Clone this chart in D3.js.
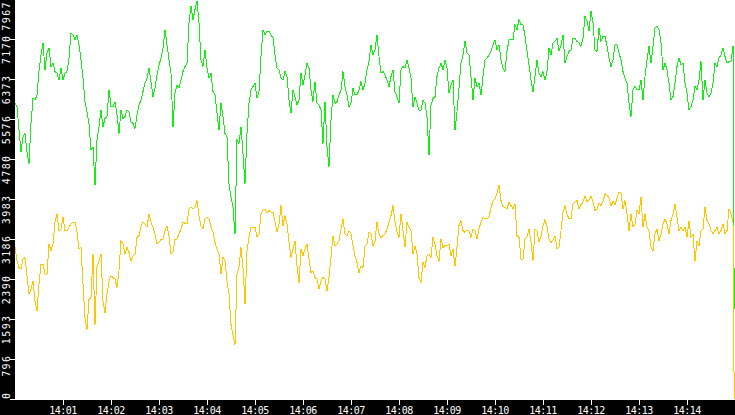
<!DOCTYPE html>
<html>
<head>
<meta charset="utf-8">
<script src="https://cdn.jsdelivr.net/npm/d3@7"></script>
<style>
    html, body { margin: 0; padding: 0; background: #fff; overflow: hidden; }
    #chart { width: 735px; height: 415px; }
</style>
</head>
<body>
<div id="chart"></div>
<script>
// one reading every 2.5 s from 14:00:00
const startTime = "14:00:00"
const stepSeconds = 2.5
const lastSecond = 899

const greenValues = [
    5899, 5832, 5365, 4931, 5231, 5298, 4931, 4697, 5498, 5999, 5965, 6065, 6532, 6866, 7100, 6566,
    6899, 7000, 6632, 6699, 6532, 6499, 6366, 6599, 6366, 6499, 6532, 6799, 7300, 7266, 7166, 7266,
    7066, 6766, 6399, 5932, 5732, 5498, 4964, 5031, 4264, 5165, 5431, 5765, 5431, 5598, 5632, 6165,
    5832, 5832, 5932, 5665, 5298, 5765, 5598, 5632, 5765, 5732, 5532, 5498, 5398, 5665,
    5865, 5965, 6132, 6299, 6399, 6599, 6332, 6032, 6199, 6466, 6666, 6799, 7000, 7366, 7066, 6766,
    6499, 5431, 6099, 6266, 6199, 6366, 6532, 6632, 6699, 7500, 7834, 7567, 7767, 7934, 7500, 6766,
    6632, 6966, 6599, 6399, 6499, 6132, 6065, 5698, 5365, 5899, 5632, 5298, 5231, 4297, 4030, 3830,
    3296, 5165, 5098, 5431, 4898, 4297, 5298, 5899, 6165, 6232, 6299, 5999, 6132,
    6833, 7366, 7266, 7333, 7333, 7266, 7200, 6866, 6599, 6566, 6399, 6366, 6532, 6432, 5965, 5698,
    6165, 6032, 5865, 5965, 6499, 6266, 6466, 6699, 6599, 6165, 5932, 6332, 5899, 5865, 5765, 5098,
    5932, 5031, 4631, 5565, 6065, 5899, 5932, 6065, 6165, 6532, 6232, 6065, 5832, 5899, 6199, 6065,
    6065, 6165, 6332, 6165, 6299, 6566, 6733, 7066, 6866, 6966, 7266, 6833, 6499,
    6532, 6466, 6366, 6232, 6432, 6566, 6132, 6032, 5899, 6566, 6632, 6599, 6766, 6599, 6399, 5832,
    6032, 5899, 5765, 5765, 5965, 5899, 5632, 4864, 5865, 5999, 6032, 6432, 6599, 6699, 6566, 6766,
    6599, 6099, 6266, 6366, 5365, 5732, 6199, 6699, 6866, 7133, 6899, 6866, 6432, 5965, 6399, 6232,
    6299, 6065, 6432, 6766, 6799, 6866, 6933, 7066, 7166, 6966, 7066, 6766, 6599,
    6532, 6933, 7166, 7166, 7166, 7467, 7366, 7567, 7467, 7467, 7233, 6933, 6666, 6366, 6132, 6432,
    6766, 6499, 6432, 6532, 6366, 6532, 7000, 6866, 7100, 7133, 7200, 6933, 7066, 7266, 6699, 6833,
    6933, 6966, 7200, 7200, 7133, 7100, 7033, 7200, 7633, 7533, 7333, 7733, 7500, 6966, 6933, 7400,
    7133, 7233, 7233, 7033, 6799, 6632, 6766, 7066, 7066, 6899, 6766, 6532,
    6399, 6299, 5899, 5632, 6165, 6232, 6165, 6165, 6366, 5965, 6432, 6766, 7033, 6699, 7033, 7400,
    7433, 7366, 7100, 6566, 6699, 6566, 6299, 5965, 6032, 6299, 6632, 6799, 6666, 6699, 6299, 6099,
    5765, 5832, 5965, 6232, 6165, 6366, 6733, 5965, 6366, 6099, 6032, 6099, 6299, 6699, 6632, 6799,
    6866, 7000, 6833, 6699, 6733, 6733, 7033, 1802
]

const yellowValues = [
    3029, 2762, 2629, 2595, 2796, 2829, 2462, 2095, 2195, 2362, 1962, 1761, 2295, 2696, 2696, 2495,
    2495, 3096, 2963, 3096, 3530, 3696, 3363, 3396, 3630, 3363, 3363, 3430, 3496, 3530, 3530, 3330,
    2996, 3029, 2295, 1628, 1395, 1995, 2028, 2896, 1494, 2629, 2762, 2896, 1962, 1728, 2095, 2362,
    2462, 2429, 2395, 2229, 2562, 3163, 3096, 2896, 3029, 2929, 2762, 2863, 2896, 3229,
    3263, 3463, 3530, 3496, 3430, 3696, 3530, 3430, 3296, 3096, 3129, 3196, 3196, 3363, 3463, 3263,
    2896, 2929, 3196, 3196, 3296, 3396, 3530, 3510, 3496, 3796, 3830, 3796, 3830, 3963, 3663, 3463,
    3396, 3596, 3630, 3596, 3430, 3330, 3129, 2996, 2896, 2495, 2829, 2762, 2362, 2095, 1494, 1294,
    1094, 2495, 2629, 3029, 2629, 1895, 2963, 3229, 3430, 3430, 3430, 3243, 3296,
    3696, 3777, 3796, 3710, 3763, 3730, 3730, 3530, 3330, 3496, 3863, 3463, 3663, 3496, 3129, 2829,
    2996, 3163, 2662, 2329, 2996, 2863, 2996, 3096, 2796, 2529, 2562, 2429, 2395, 2195, 2362, 2429,
    2395, 2162, 2429, 2829, 3263, 3063, 3096, 3163, 3396, 3596, 3296, 3263, 3363, 3296, 3063, 2863,
    2729, 2529, 2662, 2629, 3063, 3096, 3330, 3296, 3063, 3163, 3530, 3296, 3229,
    3263, 3296, 3396, 3530, 3663, 3863, 3530, 3330, 3229, 3696, 3363, 3029, 3530, 3430, 3363, 2896,
    3063, 2896, 2429, 2329, 2729, 2629, 2863, 2896, 2829, 3229, 3096, 2863, 2762, 3196, 3029, 3063,
    3063, 3096, 2863, 2996, 2662, 3029, 3463, 3563, 3363, 3330, 3376, 3363, 3229, 3396, 3363, 3196,
    3396, 3530, 3630, 3596, 3596, 3630, 3817, 3950, 3997, 4110, 4264, 3963, 3843,
    3830, 3796, 3930, 3863, 3796, 3897, 3263, 3229, 2796, 2796, 3196, 3229, 3396, 3129, 2762, 3396,
    3363, 3129, 3263, 3463, 3583, 3430, 3196, 3129, 3176, 3263, 2996, 3029, 3363, 3730, 3863, 3696,
    3596, 3596, 3897, 3930, 3963, 3796, 3883, 3930, 4050, 3943, 3977, 4050, 3930, 3763, 3796, 3917,
    3863, 3950, 4097, 4077, 4010, 3863, 3943, 3877, 4010, 4130, 4117, 3796,
    3963, 3696, 3363, 3696, 3430, 3496, 3763, 3696, 4030, 3430, 3696, 3430, 3363, 3029, 2963, 3296,
    3396, 3163, 3296, 3496, 3596, 3496, 3296, 3563, 3696, 3897, 3630, 3363, 3430, 3363, 3430, 3229,
    3563, 3229, 3296, 2762, 3163, 3063, 3363, 3396, 3830, 3563, 3496, 3363, 3296, 3363, 3430, 3296,
    3363, 3496, 3296, 3363, 3800, 3696, 3530, 0
]

const valueTicks = [0, 796, 1593, 2390, 3186, 3983, 4780, 5576, 6373, 7170, 7967]
const timeLabels = ["14:01", "14:02", "14:03", "14:04", "14:05", "14:06", "14:07",
    "14:08", "14:09", "14:10", "14:11", "14:12", "14:13", "14:14"]

const seriesColors = ["#14ee14", "#ffc600"]

function dataViz() {
    const width = 735,
        height = 415,
        left = 15,
        plotBottom = 400

    const parseTime = d3.timeParse("%H:%M:%S"),
        parseMinute = d3.timeParse("%H:%M")
    const t0 = parseTime(startTime)
    const timeAt = (i) => new Date(+t0 + Math.min(i * stepSeconds, lastSecond) * 1000)

    const x = d3.scaleTime()
        .domain([t0, d3.timeMinute.offset(t0, 15)])
        .range([left, width])

    const y = d3.scaleLinear()
        .domain([0, d3.max(valueTicks)])
        .range([plotBottom - 0.5, -0.5])

    const svg = d3.select("#chart")
        .append("svg")
        .attr("width", width)
        .attr("height", height)
        .style("display", "block")
        .style("background", "#fff")

    const line = d3.line()
        .x((d, i) => x(timeAt(i)))
        .y(d => y(d))

    //Draw both series
    svg.selectAll("path.series")
        .data([greenValues, yellowValues])
        .enter().append("path")
        .attr("class", "series")
        .attr("d", line)
        .style("fill", "none")
        .style("stroke", (d, i) => seriesColors[i])
        .style("stroke-width", 1)
        .style("shape-rendering", "crispEdges")

    //Black axis bands
    svg.append("rect")
        .attr("x", 0).attr("y", 0)
        .attr("width", left).attr("height", height)
        .style("fill", "#000")
    svg.append("rect")
        .attr("x", 0).attr("y", plotBottom)
        .attr("width", width).attr("height", height - plotBottom)
        .style("fill", "#000")

    //Value axis (rotated labels, reading upwards, hanging below the tick)
    const yAxis = svg.append("g").attr("class", "y-axis")
    yAxis.selectAll("line")
        .data(valueTicks)
        .enter().append("line")
        .attr("x1", 10).attr("x2", left)
        .attr("y1", d => Math.floor(y(d)) + 0.5)
        .attr("y2", d => Math.floor(y(d)) + 0.5)
        .style("stroke", "#fff")
        .style("shape-rendering", "crispEdges")

    yAxis.selectAll("text")
        .data(valueTicks)
        .enter().append("text")
        .text(d => d)
        .style("fill", "#fff")
        .style("font-family", "'DejaVu Sans Mono', monospace")
        .style("font-size", "10px")
        .style("letter-spacing", "1.4px")
        .attr("text-anchor", "end")
        .each(function (d) {
            const len = this.getComputedTextLength()
            let top = y(d) - 5
            top = Math.max(1, Math.min(plotBottom - 1 - len, top))
            d3.select(this).attr("transform", "translate(10," + top + ")rotate(-90)")
        })

    //Time axis
    const xAxis = svg.append("g").attr("class", "x-axis")
    const ticks = timeLabels.map(s => parseMinute(s))
    xAxis.selectAll("line")
        .data(ticks)
        .enter().append("line")
        .attr("x1", d => Math.floor(x(d)) + 0.5)
        .attr("x2", d => Math.floor(x(d)) + 0.5)
        .attr("y1", plotBottom).attr("y2", plotBottom + 5)
        .style("stroke", "#fff")
        .style("shape-rendering", "crispEdges")

    xAxis.selectAll("text")
        .data(ticks)
        .enter().append("text")
        .attr("x", d => x(d))
        .attr("y", 414)
        .attr("text-anchor", "middle")
        .style("fill", "#fff")
        .style("font-family", "'DejaVu Sans Mono', monospace")
        .style("font-size", "10px")
        .style("letter-spacing", "-0.5px")
        .text((d, i) => timeLabels[i])
}

dataViz()
</script>
</body>
</html>
